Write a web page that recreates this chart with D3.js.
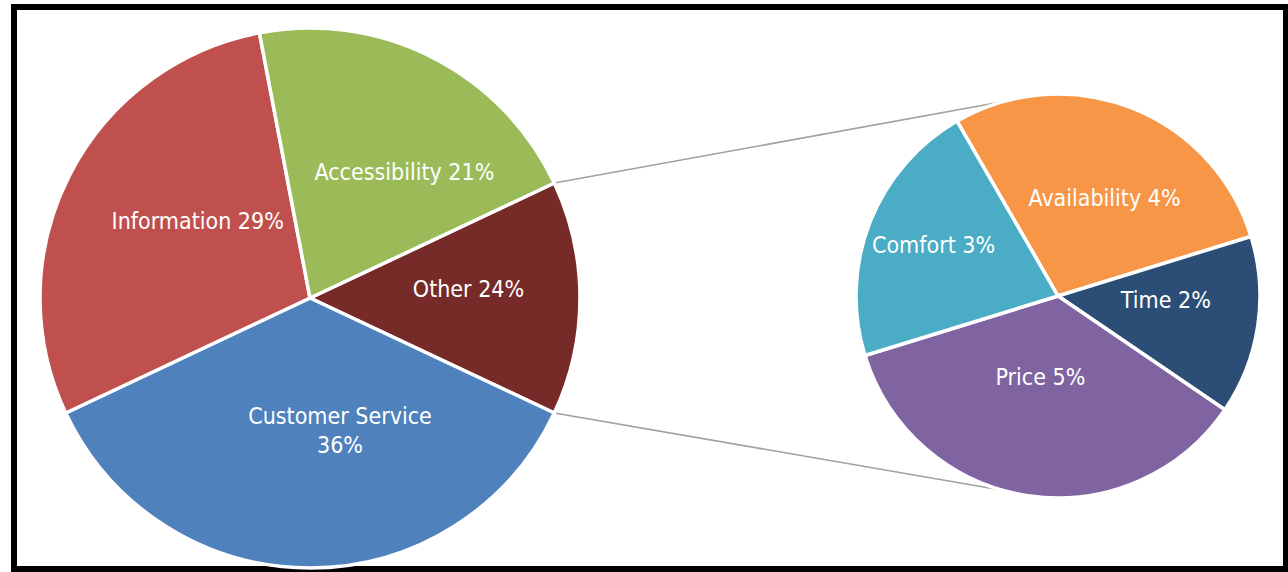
<!DOCTYPE html>
<html>
<head>
<meta charset="utf-8">
<script src="https://cdn.jsdelivr.net/npm/d3@7/dist/d3.min.js"></script>
<style>
  html, body { margin: 0; padding: 0; background: #fff; }
  svg { display: block; }
  .lbl { fill: #fff; font-family: "DejaVu Sans Condensed", "DejaVu Sans", sans-serif; font-stretch: condensed; font-size: 23px; text-anchor: middle; }
</style>
</head>
<body>
<svg id="chart" width="1288" height="572"></svg>
<script>
// Main pie categories (the "Other" slice is broken out into the secondary pie)
const mainCategories = ["Other", "Customer Service", "Information", "Accessibility"];
const mainValues = [null, 36, 29, 21];
const mainLabels = [["Other 24%"], ["Customer Service", "36%"], ["Information 29%"], ["Accessibility 21%"]];

// Secondary pie: breakdown of "Other"
const subCategories = ["Availability", "Time", "Price", "Comfort"];
const subValues = [4, 2, 5, 3];
const subLabels = [["Availability 4%"], ["Time 2%"], ["Price 5%"], ["Comfort 3%"]];

const mainColors = { "Other": "#772b29", "Customer Service": "#4f81bd", "Information": "#c0504d", "Accessibility": "#9bbb59" };
const subColors = { "Availability": "#f79646", "Time": "#2c4d75", "Price": "#8064a2", "Comfort": "#4bacc6" };

// "Other" is the sum of the secondary pie
const otherTotal = d3.sum(subValues);
const mainData = mainCategories.map((c, i) => ({ name: c, value: mainValues[i] == null ? otherTotal : mainValues[i], label: mainLabels[i] }));
const subData = subCategories.map((c, i) => ({ name: c, value: subValues[i], label: subLabels[i] }));

// layout
const W = 1288, H = 572;
const main = { cx: 310, cy: 298, r: 270 };
const sub = { cx: 1058, cy: 296, r: 202 };
const rad = d => d * Math.PI / 180;

// label nudges (px) relative to each slice's centroid
const mainNudge = { "Other": [10, -9], "Customer Service": [30, -16], "Information": [20, -10], "Accessibility": [27, 6] };
const subNudge = { "Availability": [6, 5], "Time": [-2, -13], "Price": [-1, -29], "Comfort": [-21, -11] };

const svg = d3.select("#chart");

// outer frame
svg.append("rect")
  .attr("x", 14).attr("y", 7)
  .attr("width", 1272).attr("height", 562)
  .attr("fill", "#fff").attr("stroke", "#000").attr("stroke-width", 6);

// main pie: the "Other" slice centred on 3 o'clock
const otherSpan = 2 * Math.PI * otherTotal / d3.sum(mainData, d => d.value);
const mainPie = d3.pie().sort(null).value(d => d.value)
  .startAngle(Math.PI / 2 - otherSpan / 2)
  .endAngle(Math.PI / 2 - otherSpan / 2 + 2 * Math.PI);
const mainArcs = mainPie(mainData);

const subPie = d3.pie().sort(null).value(d => d.value)
  .startAngle(rad(-30)).endAngle(rad(330));
const subArcs = subPie(subData);

const polar = (c, r, a) => [c.cx + r * Math.sin(a), c.cy - r * Math.cos(a)];

// connector lines from the "Other" slice edges to the secondary pie
const otherArc = mainArcs.find(a => a.data.name === "Other");
const attach = rad(16);
const connectors = [
  [polar(main, main.r, otherArc.startAngle), polar(sub, sub.r, -attach)],
  [polar(main, main.r, otherArc.endAngle), polar(sub, sub.r, Math.PI + attach)]
];
svg.append("g").selectAll("line").data(connectors).join("line")
  .attr("x1", d => d[0][0]).attr("y1", d => d[0][1])
  .attr("x2", d => d[1][0]).attr("y2", d => d[1][1])
  .attr("stroke", "#a0a0a0").attr("stroke-width", 1.6);

function drawPie(arcs, geo, colors, nudge) {
  const arc = d3.arc().innerRadius(0).outerRadius(geo.r);
  const lblArc = d3.arc().innerRadius(geo.r * 0.55).outerRadius(geo.r * 0.55);
  const g = svg.append("g").attr("transform", `translate(${geo.cx},${geo.cy})`);
  g.selectAll("path").data(arcs).join("path")
    .attr("d", arc)
    .attr("fill", d => colors[d.data.name])
    .attr("stroke", "#fff").attr("stroke-width", 3.5).attr("stroke-linejoin", "round");
  const lineH = 29.4;
  g.selectAll("text").data(arcs).join("text")
    .attr("class", "lbl")
    .each(function (d) {
      const [x, y] = lblArc.centroid(d);
      const [nx, ny] = nudge[d.data.name];
      const lines = d.data.label;
      const t = d3.select(this);
      lines.forEach((s, i) => {
        t.append("tspan")
          .attr("x", x + nx)
          .attr("y", y + ny + (i - (lines.length - 1) / 2) * lineH)
          .attr("dy", "0.36em")
          .text(s);
      });
    });
}

drawPie(mainArcs, main, mainColors, mainNudge);
drawPie(subArcs, sub, subColors, subNudge);
</script>
</body>
</html>
